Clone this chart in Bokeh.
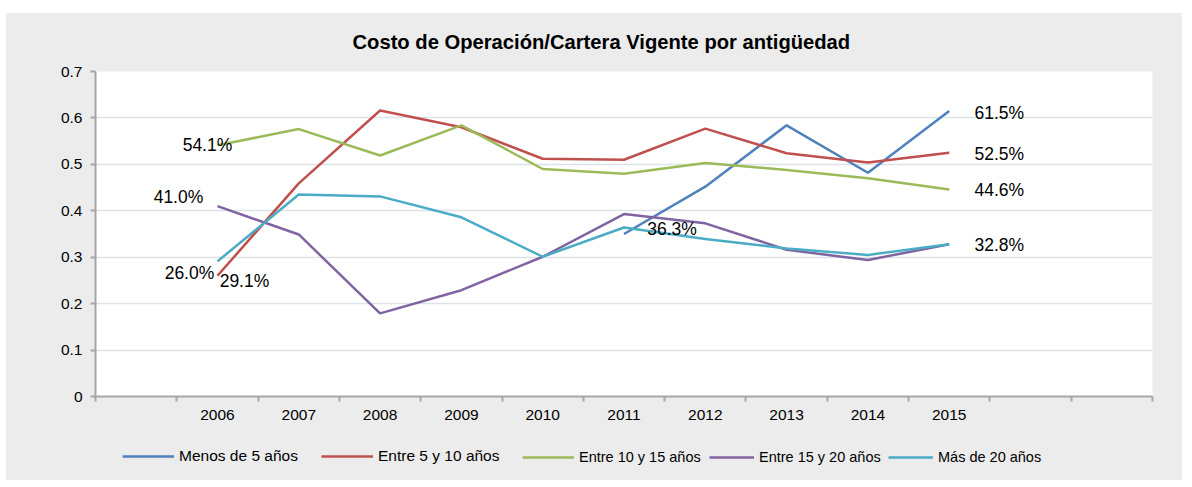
from bokeh.plotting import figure
from bokeh.layouts import column
from bokeh.models import FixedTicker, Legend, LegendItem, Range1d, Title
from bokeh.core.properties import value
from bokeh.embed import file_html
from bokeh.resources import INLINE

# ---------------- data ----------------
years = ["2006", "2007", "2008", "2009", "2010", "2011", "2012", "2013", "2014", "2015"]
nan = float("nan")
menos_5 = [nan, nan, nan, nan, nan, 0.350, 0.452, 0.584, 0.482, 0.615]
entre_5_10 = [0.260, 0.459, 0.616, 0.580, 0.512, 0.510, 0.577, 0.524, 0.504, 0.525]
entre_10_15 = [0.541, 0.576, 0.519, 0.584, 0.490, 0.480, 0.503, 0.488, 0.470, 0.446]
entre_15_20 = [0.410, 0.349, 0.179, 0.229, 0.301, 0.393, 0.373, 0.316, 0.294, 0.328]
mas_20 = [0.291, 0.435, 0.431, 0.386, 0.301, 0.364, 0.339, 0.319, 0.305, 0.328]

series_names = ["Menos de 5 años", "Entre 5 y 10 años", "Entre 10 y 15 años",
                "Entre 15 y 20 años", "Más de 20 años"]
series_values = [menos_5, entre_5_10, entre_10_15, entre_15_20, mas_20]
series_colors = ["#4F81BD", "#C0504D", "#9BBB59", "#8064A2", "#4BACC6"]

y_ticks = [0, 0.1, 0.2, 0.3, 0.4, 0.5, 0.6, 0.7]
y_tick_labels = ["0", "0.1", "0.2", "0.3", "0.4", "0.5", "0.6", "0.7"]

# data labels: (series index, year, text, dx px, dy px)
data_labels = [
    (2, "2006", "54.1%", -10, 0),
    (3, "2006", "41.0%", -39, -9),
    (1, "2006", "26.0%", -28, -3),
    (4, "2006", "29.1%", 27, 20),
    (4, "2011", "36.3%", 48, 1),
    (0, "2015", "61.5%", 50, 2),
    (1, "2015", "52.5%", 50, 1),
    (2, "2015", "44.6%", 50, 1),
    (4, "2015", "32.8%", 50, 1),
]

title_text = "Costo de Operación/Cartera Vigente por antigüedad"

# ---------------- layout ----------------
n_slots = 13          # one empty slot before 2006, two after 2015
first_center = 1.5
xs = [first_center + i for i in range(len(years))]

FONT = "Liberation Sans"
BG = "#ECECEC"
W = 1176

p = figure(width=W, height=420, output_backend="svg", toolbar_location=None,
           x_range=Range1d(0, n_slots), y_range=Range1d(0, 0.7),
           min_border_left=89, min_border_right=30, min_border_top=58,
           min_border_bottom=37)
p.border_fill_color = BG
p.background_fill_color = "white"
p.outline_line_color = None

t = Title(text=title_text, align="left", vertical_align="top", text_font=FONT,
          text_font_size="20.2px", text_font_style="bold", text_color="black",
          standoff=34, offset=257)
p.add_layout(t, "above")

# axes
p.xaxis.ticker = FixedTicker(ticks=xs, minor_ticks=list(range(n_slots + 1)))
p.xaxis.major_label_overrides = {x: y for x, y in zip(xs, years)}
p.xaxis.major_tick_out = 0
p.xaxis.major_tick_in = 0
p.xaxis.minor_tick_out = 5
p.xaxis.minor_tick_in = 0
p.xaxis.minor_tick_line_color = "#A6A6A6"
p.xaxis.minor_tick_line_width = 2
p.xaxis.major_label_standoff = 8
p.xaxis.axis_line_color = "#A6A6A6"
p.xaxis.axis_line_width = 2

p.yaxis.ticker = FixedTicker(ticks=y_ticks)
p.yaxis.major_label_overrides = {v: s for v, s in zip(y_ticks, y_tick_labels)}
p.yaxis.major_tick_out = 5
p.yaxis.major_tick_in = 0
p.yaxis.minor_tick_line_color = None
p.yaxis.major_tick_line_color = "#A6A6A6"
p.yaxis.major_tick_line_width = 2
p.yaxis.axis_line_color = "#A6A6A6"
p.yaxis.axis_line_width = 2
p.yaxis.major_label_standoff = 8

for ax in (p.xaxis, p.yaxis):
    ax.major_label_text_font = FONT
    ax.major_label_text_font_size = "15.5px"
    ax.major_label_text_color = "black"

p.xgrid.grid_line_color = None
p.ygrid.ticker = FixedTicker(ticks=y_ticks)
p.ygrid.grid_line_color = "#DCE2E8"
p.ygrid.grid_line_width = 1.5

# lines
for vals, col in zip(series_values, series_colors):
    p.line(xs, vals, line_color=col, line_width=2.5)

# data labels
for si, yr, txt, dx, dy in data_labels:
    i = years.index(yr)
    p.text([xs[i]], [series_values[si][i]], text=[txt], x_offset=dx, y_offset=dy,
           text_font=value(FONT), text_font_size="17.5px", text_color="black",
           text_align="center", text_baseline="middle")

# ---------------- legend strip (frame is aligned with the chart frame) ----------------
lg = figure(width=W, height=47, output_backend="svg", toolbar_location=None,
            x_range=Range1d(0, n_slots), y_range=Range1d(10, 11),
            x_axis_location=None, y_axis_location=None,
            min_border_left=89, min_border_right=30, min_border_top=0, min_border_bottom=0)
lg.border_fill_color = BG
lg.background_fill_color = BG
lg.outline_line_color = None
lg.xgrid.grid_line_color = None
lg.ygrid.grid_line_color = None

legend_x = [27, 226, 427, 614, 793]
legend_glyph_w = [52, 52, 52, 45, 45]
legend_font = ["15.5px", "15.5px", "14.5px", "14.5px", "14.5px"]
for name, vals, col, lx, gw, fs in zip(series_names, series_values, series_colors,
                                         legend_x, legend_glyph_w, legend_font):
    r = lg.line(xs, vals, line_color=col, line_width=2.5)   # outside the strip's view
    leg = Legend(items=[LegendItem(label=name, renderers=[r])],
                 orientation="horizontal", location=(lx, 15),
                 label_text_font=FONT, label_text_font_size=fs, label_text_color="black",
                 glyph_width=gw, glyph_height=16, label_standoff=5, spacing=0,
                 background_fill_alpha=0, border_line_alpha=0, margin=0, padding=0)
    lg.add_layout(leg, "center")

layout = column(p, lg, spacing=0)
layout.margin = (13, 0, 0, 6)
layout.styles = {"background-color": BG}

open("out.html", "w").write(file_html(layout, INLINE))
